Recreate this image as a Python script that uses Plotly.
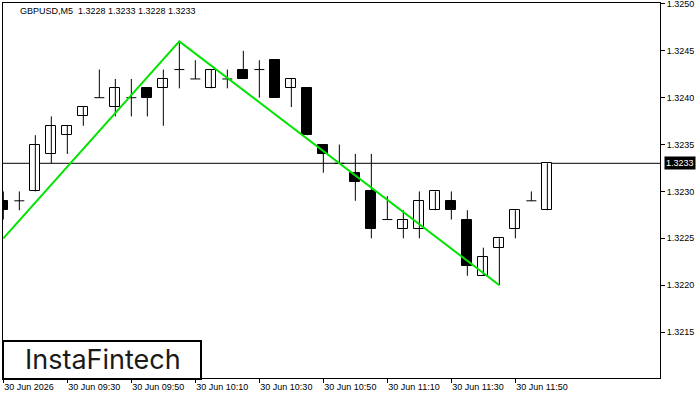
import pandas as pd
import plotly.graph_objects as go

# ---- data ----
start_time = "2026-06-30 09:10"
n_bars = 35
opens = [1.3229, 1.3229, 1.3230, 1.3234, 1.3236, 1.3238, 1.3240, 1.3239, 1.3240, 1.3241,
         1.3241, 1.3243, 1.3242, 1.3241, 1.3242, 1.3243, 1.3243, 1.3244, 1.3241, 1.3241,
         1.3235, 1.3233, 1.3232, 1.3230, 1.3227, 1.3226, 1.3226, 1.3228, 1.3229, 1.3227,
         1.3221, 1.3224, 1.3226, 1.3229, 1.3228]
highs = [1.3230, 1.3230, 1.3236, 1.3238, 1.3237, 1.3239, 1.3243, 1.3242, 1.3242, 1.3241,
         1.3243, 1.3246, 1.3244, 1.3243, 1.3243, 1.3245, 1.3244, 1.3244, 1.3242, 1.3241,
         1.3235, 1.3235, 1.3234, 1.3234, 1.32295, 1.3228, 1.3230, 1.3230, 1.3230, 1.3228,
         1.3224, 1.3225, 1.3228, 1.3230, 1.3233]
lows = [1.3227, 1.3228, 1.3230, 1.3233, 1.3234, 1.3237, 1.3240, 1.3238, 1.3238, 1.3238,
        1.3237, 1.3241, 1.3242, 1.3241, 1.3241, 1.3242, 1.3240, 1.3240, 1.3239, 1.3236,
        1.3232, 1.3233, 1.3229, 1.3225, 1.3227, 1.3225, 1.3225, 1.3228, 1.3227, 1.3221,
        1.3221, 1.3220, 1.3225, 1.3229, 1.3228]
closes = [1.3228, 1.3229, 1.3235, 1.3237, 1.3237, 1.3239, 1.3240, 1.3241, 1.3240, 1.3240,
          1.3242, 1.3243, 1.3242, 1.3243, 1.3242, 1.3242, 1.3243, 1.3240, 1.3242, 1.3236,
          1.3234, 1.3233, 1.3231, 1.3226, 1.3227, 1.3227, 1.3229, 1.3230, 1.3228, 1.3222,
          1.3223, 1.3225, 1.3228, 1.3229, 1.3233]

pattern_bar_index = [0, 11, 31]
pattern_values = [1.3225, 1.3246, 1.3220]

current_price = 1.3233
title_text = "GBPUSD,M5  1.3228 1.3233 1.3228 1.3233"
x_tick_index = [0, 4, 8, 12, 16, 20, 24, 28, 32]
x_tick_labels = ["30 Jun 2026", "30 Jun 09:30", "30 Jun 09:50", "30 Jun 10:10",
                 "30 Jun 10:30", "30 Jun 10:50", "30 Jun 11:10", "30 Jun 11:30",
                 "30 Jun 11:50"]
logo_text = "InstaFintech"

# ---- build ----
step = pd.Timedelta(minutes=5)
times = pd.date_range(start_time, periods=n_bars, freq="5min")
body_frac = 0.625
half_body = step * body_frac / 2

wick_x, wick_y = [], []
for t, h, l in zip(times, highs, lows):
    wick_x += [t, t, None]
    wick_y += [l, h, None]

up_t, up_base, up_h = [], [], []
dn_t, dn_base, dn_h = [], [], []
doji_x, doji_y = [], []
for t, o, c in zip(times, opens, closes):
    if abs(c - o) < 1e-9:
        doji_x += [t - half_body, t + half_body, None]
        doji_y += [o, o, None]
    elif c > o:
        up_t.append(t); up_base.append(o); up_h.append(c - o)
    else:
        dn_t.append(t); dn_base.append(c); dn_h.append(o - c)

width_ms = step.total_seconds() * 1000 * body_frac

fig = go.Figure()
fig.add_trace(go.Scatter(x=wick_x, y=wick_y, mode="lines",
                         line=dict(color="black", width=1), hoverinfo="skip"))
fig.add_trace(go.Bar(x=up_t, y=up_h, base=up_base, width=width_ms,
                     marker=dict(color="white", line=dict(color="black", width=1))))
fig.add_trace(go.Bar(x=dn_t, y=dn_h, base=dn_base, width=width_ms,
                     marker=dict(color="black", line=dict(color="black", width=1))))
fig.add_trace(go.Scatter(x=doji_x, y=doji_y, mode="lines",
                         line=dict(color="black", width=1), hoverinfo="skip"))
fig.add_trace(go.Scatter(x=[times[i] for i in pattern_bar_index], y=pattern_values,
                         mode="lines", line=dict(color="#00e400", width=2)))

fig.add_shape(type="line", xref="paper", x0=0, x1=1, yref="y",
              y0=current_price, y1=current_price,
              line=dict(color="black", width=1), layer="below")

x_range = [times[0] - step * 0.02, times[0] + step * 41.04]

font_axis = dict(family="Liberation Sans, Arial, sans-serif", size=9, color="black")

fig.update_layout(
    width=700, height=400,
    margin=dict(l=3, r=40, t=3, b=22, autoexpand=False),
    paper_bgcolor="white", plot_bgcolor="white",
    showlegend=False, barmode="overlay", bargap=0,
    font=font_axis,
    xaxis=dict(type="date", range=x_range, showgrid=False, zeroline=False,
               showline=True, linecolor="black", linewidth=1, mirror=True,
               ticks="outside", ticklen=4, tickcolor="black",
               tickvals=[times[i] for i in x_tick_index], ticktext=x_tick_labels,
               ticklabelposition="outside right", tickfont=font_axis,
               automargin=False),
    yaxis=dict(range=[1.32101, 1.32501], side="right", showgrid=False, zeroline=False,
               showline=True, linecolor="black", linewidth=1, mirror=True,
               ticks="outside", ticklen=4, tickcolor="black",
               tick0=1.3215, dtick=0.0005, tickformat=".4f", tickfont=font_axis,
               ticklabeloverflow="allow", automargin=False),
)

fig.add_annotation(xref="paper", yref="paper", x=(18 - 3) / 657, y=(378 - 11) / 375,
                   xanchor="left", yanchor="middle", text=title_text, showarrow=False,
                   font=font_axis)

fig.add_annotation(xref="paper", yref="y", x=1 + 4 / 657, y=current_price,
                   xanchor="left", yanchor="middle", text=str(current_price),
                   showarrow=False, bgcolor="black", borderpad=1,
                   font=dict(family="Liberation Sans, Arial, sans-serif", size=9, color="white"))

fig.add_shape(type="rect", xref="paper", yref="paper",
              x0=0, x1=(201 - 3) / 657, y0=-0.0027, y1=(378 - 341) / 375,
              line=dict(color="black", width=2), fillcolor="white", layer="above")
fig.add_annotation(xref="paper", yref="paper", x=(102.5 - 3) / 657, y=(378 - 359.5) / 375,
                   xanchor="center", yanchor="middle", text=logo_text, showarrow=False,
                   font=dict(family="Inter, sans-serif", size=27, color="#1a1a1a"))

fig.write_html("out.html")
